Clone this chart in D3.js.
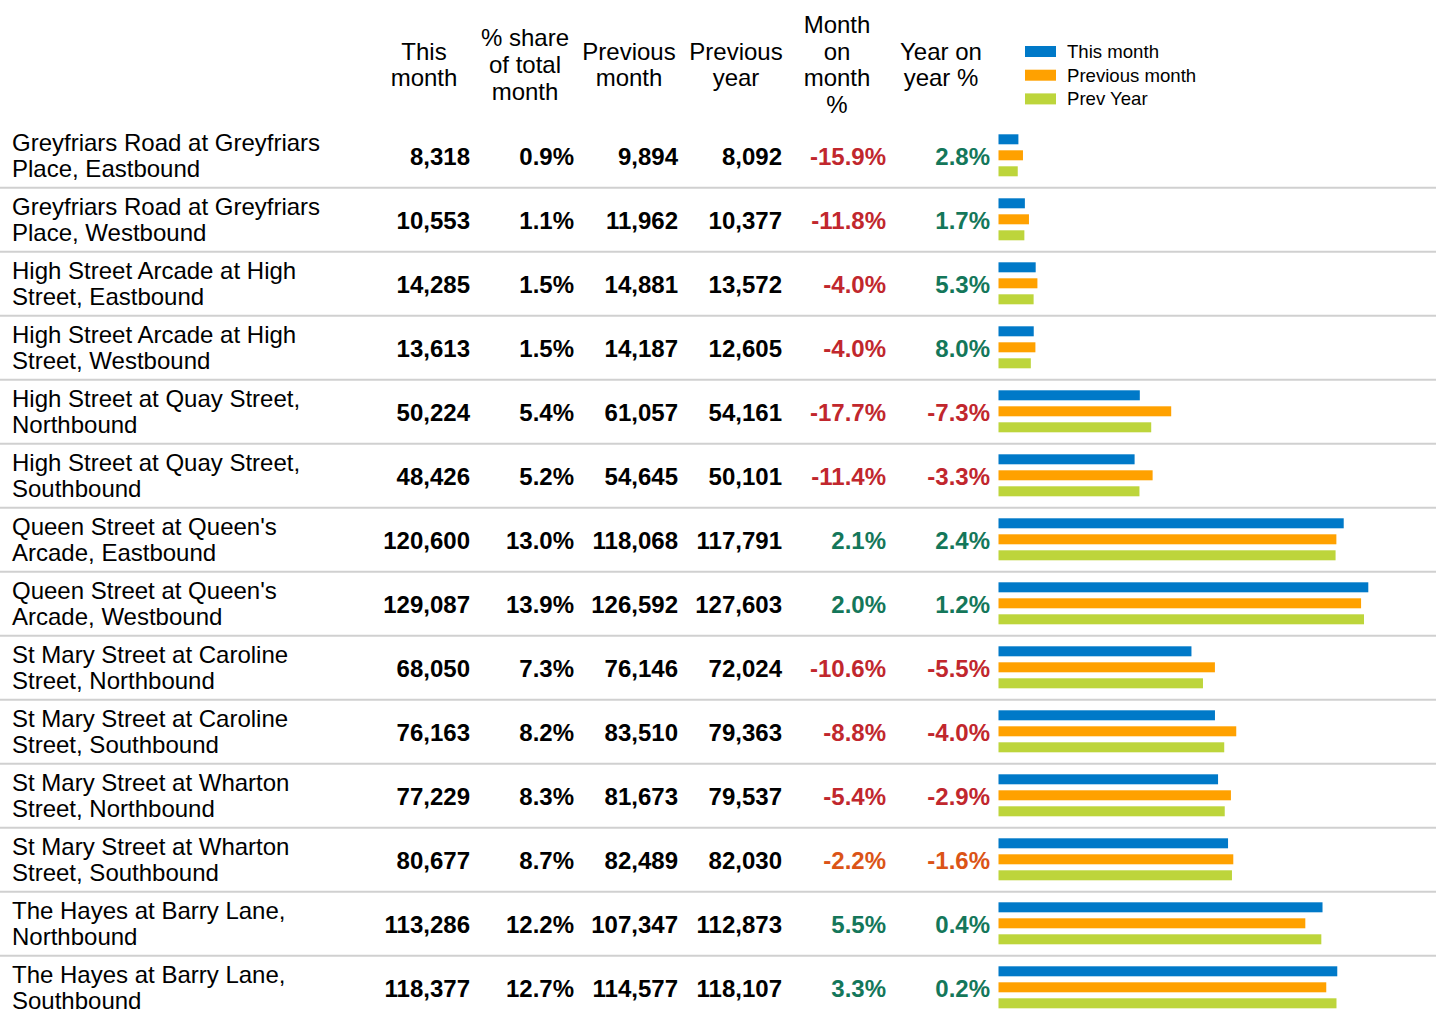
<!DOCTYPE html>
<html><head><meta charset="utf-8">
<script src="https://cdn.jsdelivr.net/npm/d3@7"></script>
<style>
html,body{margin:0;padding:0;background:#fff;}
svg{display:block;font-family:"Liberation Sans",Arial,sans-serif;}
</style></head>
<body><svg id="chart" width="1436" height="1012"></svg>
<script>
const locations = [
  "Greyfriars Road at Greyfriars Place, Eastbound",
  "Greyfriars Road at Greyfriars Place, Westbound",
  "High Street Arcade at High Street, Eastbound",
  "High Street Arcade at High Street, Westbound",
  "High Street at Quay Street, Northbound",
  "High Street at Quay Street, Southbound",
  "Queen Street at Queen's Arcade, Eastbound",
  "Queen Street at Queen's Arcade, Westbound",
  "St Mary Street at Caroline Street, Northbound",
  "St Mary Street at Caroline Street, Southbound",
  "St Mary Street at Wharton Street, Northbound",
  "St Mary Street at Wharton Street, Southbound",
  "The Hayes at Barry Lane, Northbound",
  "The Hayes at Barry Lane, Southbound"
];
const thisMonth   = [8318,10553,14285,13613,50224,48426,120600,129087,68050,76163,77229,80677,113286,118377];
const sharePct    = [0.9,1.1,1.5,1.5,5.4,5.2,13.0,13.9,7.3,8.2,8.3,8.7,12.2,12.7];
const prevMonth   = [9894,11962,14881,14187,61057,54645,118068,126592,76146,83510,81673,82489,107347,114577];
const prevYear    = [8092,10377,13572,12605,54161,50101,117791,127603,72024,79363,79537,82030,112873,118107];
const momPct      = [-15.9,-11.8,-4.0,-4.0,-17.7,-11.4,2.1,2.0,-10.6,-8.8,-5.4,-2.2,5.5,3.3];
const yoyPct      = [2.8,1.7,5.3,8.0,-7.3,-3.3,2.4,1.2,-5.5,-4.0,-2.9,-1.6,0.4,0.2];

const headers = [
  ["This","month"],
  ["% share","of total","month"],
  ["Previous","month"],
  ["Previous","year"],
  ["Month","on","month","%"],
  ["Year on","year %"]
];
const seriesNames = ["This month","Previous month","Prev Year"];
const seriesColors = ["#0079c8","#ffa100","#bdd53b"];

const svg = d3.select("#chart");
const W = 1436, H = 1012;

// layout
const rowTop = 123.7, rowH = 64;
const colLeft = 372, colW = 104;
const headerShift = [0,-3,-3,0,-3,-3];
const barX0 = 998.5;

const fmtInt = d3.format(",");
const fmtPct = d => d.toFixed(1) + "%";

const y = d3.scaleBand().domain(d3.range(locations.length)).range([rowTop, rowTop + rowH*locations.length]).padding(0);
const x = d3.scaleLinear().domain([1450, 129087]).range([barX0, 1368.3]);
const sub = d3.scaleBand().domain(d3.range(3)).range([10.6, 52.6]).paddingInner(0.375).paddingOuter(0);

// separators
svg.append("g").selectAll("line").data(d3.range(locations.length-1)).join("line")
  .attr("x1",0).attr("x2",W)
  .attr("y1",i=>y(i)+rowH).attr("y2",i=>y(i)+rowH)
  .attr("stroke","#d0d0d0").attr("stroke-width",2);

// headers
const hg = svg.append("g").attr("font-size",24).attr("fill","#000").attr("text-anchor","middle");
const lh = 26.6, hMid = 64.5;
headers.forEach((lines,c)=>{
  const cx = colLeft + colW*c + colW/2 + headerShift[c];
  const t = hg.append("text").attr("x",cx);
  lines.forEach((l,k)=>{
    t.append("tspan").attr("x",cx)
     .attr("y", hMid + (k - (lines.length-1)/2)*lh + 8.5)
     .text(l);
  });
});

// legend
const lg = svg.append("g");
seriesNames.forEach((s,k)=>{
  const cy = 51.5 + k*23.7;
  lg.append("rect").attr("x",1025).attr("y",cy-5.5).attr("width",31).attr("height",11).attr("fill",seriesColors[k]);
  lg.append("text").attr("x",1067).attr("y",cy+6.5).attr("font-size",18.6).attr("fill","#000").text(s);
});

// location labels (wrapped)
const measure = svg.append("text").attr("font-size",24).attr("visibility","hidden");
function wrap(str, maxW){
  const words = str.split(" "); const lines=[]; let cur="";
  words.forEach(w=>{
    const test = cur ? cur+" "+w : w;
    measure.text(test);
    if (measure.node().getComputedTextLength() > maxW && cur){ lines.push(cur); cur=w; }
    else cur=test;
  });
  if(cur) lines.push(cur);
  return lines;
}
const lblG = svg.append("g").attr("font-size",24).attr("fill","#000");
locations.forEach((name,i)=>{
  const lines = wrap(name, 330);
  const mid = y(i) + rowH/2;
  const t = lblG.append("text").attr("x",12);
  lines.forEach((l,k)=>{
    t.append("tspan").attr("x",12).attr("y", mid + (k-(lines.length-1)/2)*25.6 + 8.5).text(l);
  });
});
measure.remove();

// numeric columns
const pctColor = v => v >= 0 ? "#14775a" : (v < -2.5 ? "#c1272d" : "#db5417");
const cols = [
  {vals:thisMonth, f:fmtInt, color:()=>"#000"},
  {vals:sharePct, f:fmtPct, color:()=>"#000"},
  {vals:prevMonth, f:fmtInt, color:()=>"#000"},
  {vals:prevYear, f:fmtInt, color:()=>"#000"},
  {vals:momPct, f:fmtPct, color:pctColor},
  {vals:yoyPct, f:fmtPct, color:pctColor}
];
const numG = svg.append("g").attr("font-size",24).attr("font-weight","bold").attr("text-anchor","end");
cols.forEach((c,ci)=>{
  const rx = colLeft + colW*(ci+1) - 6;
  numG.append("g").selectAll("text").data(c.vals).join("text")
    .attr("x",rx).attr("y",(d,i)=>y(i)+rowH/2+9)
    .attr("fill",d=>c.color(d))
    .text(d=>c.f(d));
});

// bars
const barData = [];
locations.forEach((n,i)=>{
  [thisMonth[i],prevMonth[i],prevYear[i]].forEach((v,k)=>barData.push({i,k,v}));
});
svg.append("g").selectAll("rect").data(barData).join("rect")
  .attr("x",barX0)
  .attr("y",d=>y(d.i)+sub(d.k))
  .attr("width",d=>x(d.v)-barX0)
  .attr("height",sub.bandwidth())
  .attr("fill",d=>seriesColors[d.k]);
</script></body></html>
